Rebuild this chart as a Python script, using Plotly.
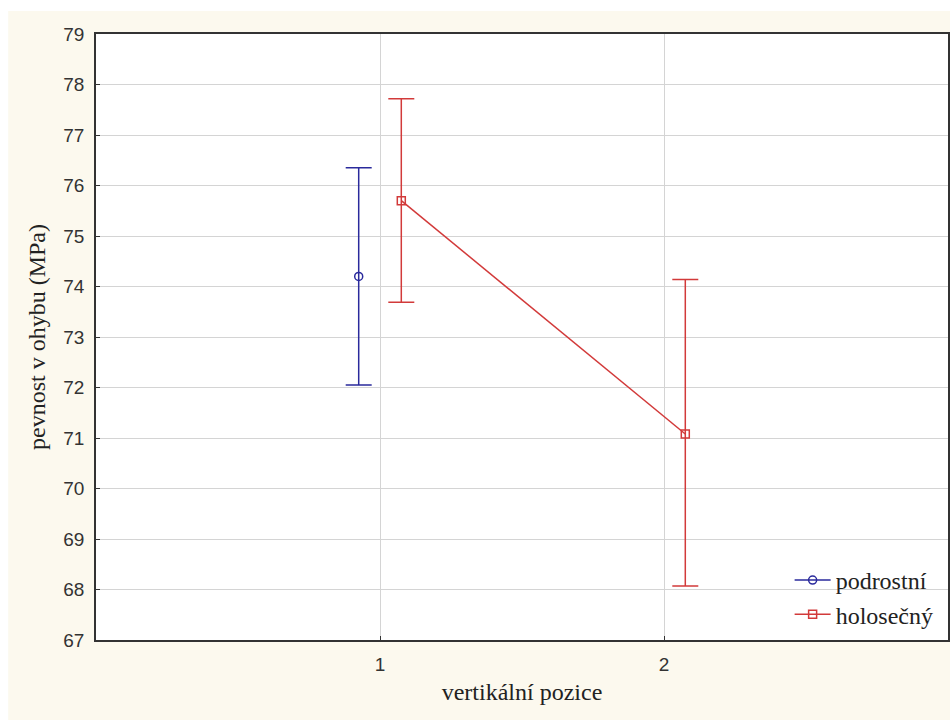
import plotly.graph_objects as go

categories = [1, 2]
series_names = ["podrostní", "holosečný"]
podrostni_mean = [74.2, None]
podrostni_upper = [76.35, None]
podrostni_lower = [72.05, None]
holosecny_mean = [75.7, 71.08]
holosecny_upper = [77.72, 74.14]
holosecny_lower = [73.69, 68.07]
y_ticks = list(range(67, 80))

blue = "#2a2a9c"
red = "#d23a3a"
dodge = 0.075

W, H = 952, 720
ml, mr, mt, mb = 96, 2, 34, 80

def err(mean, up, lo):
    plus = [None if m is None else u - m for m, u in zip(mean, up)]
    minus = [None if m is None else m - l for m, l in zip(mean, lo)]
    return plus, minus

fig = go.Figure()
for name, mean, up, lo, col, sym, off in [
    (series_names[0], podrostni_mean, podrostni_upper, podrostni_lower, blue, "circle-open", -dodge),
    (series_names[1], holosecny_mean, holosecny_upper, holosecny_lower, red, "square-open", dodge),
]:
    plus, minus = err(mean, up, lo)
    fig.add_trace(go.Scatter(
        x=[c + off for c in categories], y=mean, name=name,
        mode="lines+markers",
        line=dict(color=col, width=1.5),
        marker=dict(symbol=sym, size=8, color=col, line=dict(width=1.5, color=col)),
        error_y=dict(type="data", symmetric=False, array=plus, arrayminus=minus,
                     color=col, thickness=1.5, width=13),
    ))

# cream background panel with thin white margin at top/left
pw = W - ml - mr
ph = H - mt - mb
fig.add_shape(type="rect", xref="paper", yref="paper", layer="below",
              x0=(8 - ml) / pw, x1=(W - ml) / pw,
              y0=-(H - mt - ph) / ph - 0.01, y1=1 + (mt - 11) / ph,
              fillcolor="#fcf9ee", line=dict(width=0))
fig.add_shape(type="rect", xref="paper", yref="paper", layer="below",
              x0=0, x1=1, y0=0, y1=1,
              fillcolor="white", line=dict(width=0))

fig.update_layout(
    width=W, height=H,
    margin=dict(l=ml, r=mr, t=mt, b=mb),
    paper_bgcolor="white", plot_bgcolor="white",
    showlegend=True,
    legend=dict(x=0.989, y=0.005, xanchor="right", yanchor="bottom",
                bgcolor="rgba(255,255,255,0)",
                font=dict(family="Liberation Serif", size=24, color="#222"),
                tracegroupgap=0, itemwidth=36),
    xaxis=dict(range=[0, 3], tickvals=categories, ticktext=[str(c) for c in categories],
               showgrid=True, gridcolor="#d4d4d4", gridwidth=1, zeroline=False,
               showline=True, linecolor="#333", linewidth=1.5, mirror=True,
               ticks="inside", ticklen=4, tickcolor="#333", ticklabelstandoff=6,
               tickfont=dict(family="Arial", size=19, color="#333"),
               title=dict(text="vertikální pozice", standoff=10,
                          font=dict(family="Liberation Serif", size=24, color="#222"))),
    yaxis=dict(range=[67, 79], tickvals=y_ticks,
               showgrid=True, gridcolor="#d4d4d4", gridwidth=1, zeroline=False,
               showline=True, linecolor="#333", linewidth=1.5, mirror=True,
               ticks="inside", ticklen=4, tickcolor="#333", ticklabelstandoff=6,
               tickfont=dict(family="Arial", size=19, color="#333"),
               title=dict(text="pevnost v ohybu (MPa)", standoff=11,
                          font=dict(family="Liberation Serif", size=24, color="#222"))),
)

fig.write_html("out.html")
